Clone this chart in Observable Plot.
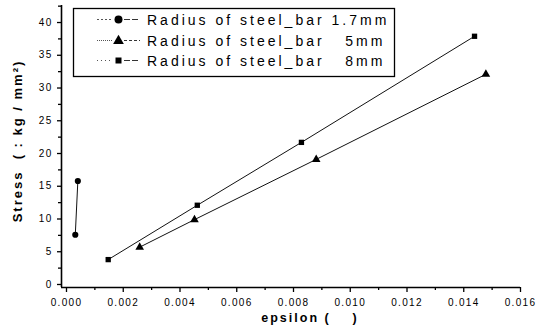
<!DOCTYPE html>
<html><head><meta charset="utf-8">
<script src="https://cdn.jsdelivr.net/npm/d3@7"></script>
<script src="https://cdn.jsdelivr.net/npm/@observablehq/plot@0.6"></script>
<style>
body{margin:0;background:#fff;}
#c svg{font-family:"Liberation Sans",Arial,sans-serif;}
</style></head>
<body><div id="c"></div>
<script>
const seriesNames = ["Radius of steel_bar 1.7mm", "Radius of steel_bar   5mm", "Radius of steel_bar   8mm"];
const seriesSymbols = ["circle", "triangle", "square"];
const eps17 = [0.00031, 0.00040];
const stress17 = [7.6, 15.8];
const eps5 = [0.00258, 0.00451, 0.0088, 0.01478];
const stress5 = [5.7, 9.9, 19.1, 32.1];
const eps8 = [0.00147, 0.00461, 0.00828, 0.01438];
const stress8 = [3.8, 12.1, 21.7, 37.9];
const xMajor = [0, 0.002, 0.004, 0.006, 0.008, 0.010, 0.012, 0.014, 0.016];
const xMinor = [0.001, 0.003, 0.005, 0.007, 0.009, 0.011, 0.013, 0.015];
const yMajor = [0, 5, 10, 15, 20, 25, 30, 35, 40];
const yMinor = [2.5, 7.5, 12.5, 17.5, 22.5, 27.5, 32.5, 37.5, 42.5];
const xLabel = "epsilon (    )";
const yLabel = "Stress  ( : kg / mm\u00B2)";

const data = [];
[[eps17, stress17], [eps5, stress5], [eps8, stress8]].forEach(([xs, ys], i) => {
  xs.forEach((x, j) => data.push({series: seriesNames[i], symbol: seriesSymbols[i], x, y: ys[j]}));
});

const xDomain = [-0.000176, 0.016];
const yDomain = [-0.46, 42.6];

const chart = Plot.plot({
  width: 536, height: 329,
  marginLeft: 61, marginRight: 16, marginTop: 5, marginBottom: 42,
  x: {domain: xDomain},
  y: {domain: yDomain},
  style: {fontSize: "10px", color: "#000"},
  marks: [
    Plot.line(data, {x: "x", y: "y", z: "series", stroke: "#111", strokeWidth: 1}),
    Plot.dot(data, {x: "x", y: "y", symbol: "symbol", r: d => d.symbol === "triangle" ? 4.3 : d.symbol === "square" ? 3.8 : 4, fill: "#000", stroke: "none"}),
    Plot.axisX({ticks: xMajor, tickSize: 5, tickPadding: 6, tickFormat: d3.format(".3f"), label: null, strokeWidth: 1.3}),
    Plot.axisX({ticks: xMinor, tickSize: 3, text: null, label: null, strokeWidth: 1.3}),
    Plot.axisY({ticks: yMajor, tickSize: 4, tickPadding: 5, label: null, strokeWidth: 1.3}),
    Plot.axisY({ticks: yMinor, tickSize: 3, text: null, label: null, strokeWidth: 1.3}),
    Plot.ruleX([xDomain[0]], {strokeWidth: 1.6}),
    Plot.ruleY([yDomain[0]], {strokeWidth: 1.6})
  ]
});

const svg = d3.select(chart);
svg.selectAll("g[aria-label='x-axis tick label'] text, g[aria-label='y-axis tick label'] text").style("letter-spacing", "1.3px");

// axis labels
svg.append("text").attr("x", 310).attr("y", 322).attr("text-anchor", "middle")
  .style("font-size", "12.5px").style("font-weight", "bold").style("letter-spacing", "2px").style("white-space", "pre")
  .attr("fill", "#000").text(xLabel);
svg.append("text").attr("transform", "translate(22,141) rotate(-90)").attr("text-anchor", "middle")
  .style("font-size", "13px").style("font-weight", "bold").style("letter-spacing", "2px").style("white-space", "pre")
  .attr("fill", "#000").text(yLabel);

// legend
const lg = svg.append("g").attr("text-anchor", "start");
lg.append("rect").attr("x", 73.5).attr("y", 8.5).attr("width", 321).attr("height", 68)
  .attr("fill", "#fff").attr("stroke", "#000").attr("stroke-width", 1.3);
const rowsY = [19.5, 40.5, 60.5];
const dashes = ["2,2", "1,1", "1,3"];
rowsY.forEach((yy, i) => {
  lg.append("line").attr("x1", 97).attr("x2", 113).attr("y1", yy).attr("y2", yy).attr("stroke", "#555").attr("stroke-dasharray", dashes[i]);
  lg.append("line").attr("x1", 124).attr("x2", 140).attr("y1", yy).attr("y2", yy).attr("stroke", "#333").attr("stroke-dasharray", i === 1 ? "3,2" : "6,2");
  const sym = d3.symbol().type(i === 0 ? d3.symbolCircle : i === 1 ? d3.symbolTriangle : d3.symbolSquare).size(i === 2 ? 36 : 50);
  lg.append("path").attr("d", sym()).attr("transform", `translate(118.5,${yy + (i===1?0.5:0)})`).attr("fill", "#000");
  lg.append("text").attr("x", 147).attr("y", yy).attr("dy", "0.36em").attr("text-anchor", "start")
    .style("font-size", "14px").style("letter-spacing", "3px").style("white-space", "pre")
    .attr("fill", "#000").text(seriesNames[i]);
});
document.getElementById("c").appendChild(chart);
</script></body></html>
